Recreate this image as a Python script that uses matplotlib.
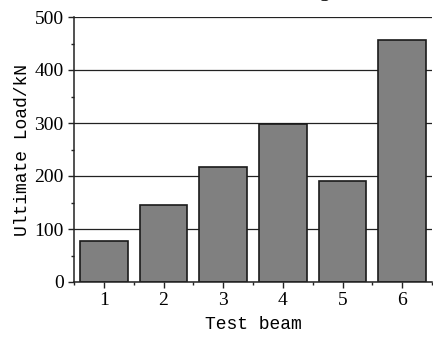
import numpy as np
import matplotlib.pyplot as plt
from matplotlib.ticker import MultipleLocator

beams = [1, 2, 3, 4, 5, 6]
loads = [77, 145, 217, 298, 190, 456]

fig = plt.figure(figsize=(4.33, 3.38), dpi=100)
ax = fig.add_axes([74/433, 56/338, 358/433, 265/338])

ax.set_axisbelow(True)
ax.yaxis.grid(True, color='#222222', linewidth=0.9)
ax.bar(beams, loads, width=0.8, color='#808080', edgecolor='#1a1a1a', linewidth=1.2)

ax.set_xlim(0.5, 6.5)
ax.set_ylim(0, 500)
ax.set_xticks(beams)
ax.xaxis.set_minor_locator(MultipleLocator(0.5))
ax.yaxis.set_major_locator(MultipleLocator(100))
ax.yaxis.set_minor_locator(MultipleLocator(50))
ax.tick_params(which='both', direction='out', color='#222222', width=1)
ax.tick_params(which='major', length=4)
ax.tick_params(which='minor', length=2.5)
for lab in ax.get_xticklabels() + ax.get_yticklabels():
    lab.set_family('Liberation Serif')
    lab.set_fontsize(14)

for s in ['top', 'right']:
    ax.spines[s].set_visible(False)
for s in ['left', 'bottom']:
    ax.spines[s].set_color('#222222')
    ax.spines[s].set_linewidth(1.1)

ax.set_xlabel('Test beam', family='Liberation Mono', fontsize=13, labelpad=5)
ax.set_ylabel('Ultimate Load/kN', family='Liberation Mono', fontsize=13, labelpad=2)

# title sits mostly above the top edge, only the descender shows
fig.text(330/433, 1 + 4/338, 'Ultimate Loading', ha='right', va='baseline',
         family='Liberation Serif', fontsize=16)

fig.savefig('out.png', dpi=100)
